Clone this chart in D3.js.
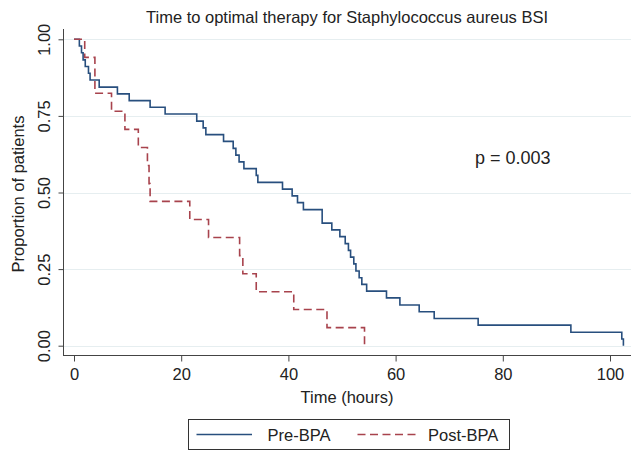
<!DOCTYPE html>
<html><head><meta charset="utf-8">
<script src="https://cdn.jsdelivr.net/npm/d3@7/dist/d3.min.js"></script>
<style>
body{margin:0;background:#fff}
svg{display:block;font-family:"Liberation Sans",Arial,sans-serif}
</style>
</head><body>
<svg id="chart" width="631" height="451"></svg>
<script>
// ---- data ----
const chartTitle = "Time to optimal therapy for Staphylococcus aureus BSI";
const xTitle = "Time (hours)";
const yTitle = "Proportion of patients";
const pText = "p = 0.003";
const seriesNames = ["Pre-BPA", "Post-BPA"];
const xTicks = [0, 20, 40, 60, 80, 100];
const yTicks = [0, 0.25, 0.5, 0.75, 1];

// Pre-BPA Kaplan-Meier steps (time in hours, proportion after the step)
const preTimes = [0, 1.0, 1.4, 1.7, 2.1, 2.7, 3.0, 4.7, 8.1, 10.3, 14.2, 17.0, 22.9, 24.1, 24.6,
  27.9, 29.7, 30.2, 30.8, 31.7, 34.0, 34.3, 38.9, 40.7, 41.7, 42.8, 46.3, 48.1, 49.6, 50.6,
  51.2, 51.6, 52.2, 52.6, 53.2, 53.7, 54.6, 58.3, 60.8, 64.4, 67.2, 75.4, 92.7, 102.2, 102.5];
const preSurv = [1.0, 0.978, 0.956, 0.933, 0.911, 0.889, 0.867, 0.844, 0.822, 0.800, 0.778, 0.756, 0.733, 0.711, 0.689,
  0.667, 0.644, 0.622, 0.600, 0.578, 0.556, 0.533, 0.511, 0.489, 0.467, 0.444, 0.400, 0.378, 0.356, 0.333,
  0.311, 0.289, 0.267, 0.244, 0.222, 0.200, 0.178, 0.156, 0.133, 0.111, 0.089, 0.067, 0.044, 0.022, 0.0];

// Post-BPA Kaplan-Meier steps
const postTimes = [0, 2.0, 3.9, 7.0, 9.5, 12.0, 13.7, 14.0, 14.2, 21.6, 25.1, 30.9, 31.5, 34.0, 41.0, 47.2, 54.2];
const postSurv = [1.0, 0.941, 0.824, 0.765, 0.706, 0.647, 0.588, 0.529, 0.471, 0.412, 0.353, 0.294, 0.235, 0.176, 0.118, 0.059, 0.0];

// ---- drawing ----
const svg = d3.select("#chart");
const W = 631, H = 451;
const axisX = 63.5, axisY = 355.5, topY = 29;
const x = d3.scaleLinear().domain([0, 100]).range([74, 610]);
const y = d3.scaleLinear().domain([0, 1]).range([345.7, 39.3]);

const blue = "#284f7e", red = "#a8434d";
const fs = 16.5;

svg.append("rect").attr("width", W).attr("height", H).attr("fill", "#fff");

// gridlines
svg.append("g").selectAll("line").data(yTicks).join("line")
  .attr("x1", axisX).attr("x2", W)
  .attr("y1", d => Math.round(y(d)) + 0.5).attr("y2", d => Math.round(y(d)) + 0.5)
  .attr("stroke", "#e6eef0").attr("stroke-width", 1.2);

// y axis
const gy = svg.append("g").attr("transform", `translate(${axisX},0)`)
  .call(d3.axisLeft(y).tickValues(yTicks).tickFormat(d3.format(".2f")).tickSize(5).tickSizeOuter(0));
gy.select(".domain").remove();
gy.selectAll(".tick line").attr("stroke", "#444");
gy.selectAll(".tick text")
  .attr("x", null).attr("dy", null)
  .attr("transform", "translate(-13.5,0) rotate(-90)")
  .attr("text-anchor", "middle")
  .attr("font-size", fs).attr("font-family", "Liberation Sans, Arial, sans-serif").attr("fill", "#222");

// x axis
const gx = svg.append("g").attr("transform", `translate(0,${axisY})`)
  .call(d3.axisBottom(x).tickValues(xTicks).tickSize(6).tickPadding(6).tickSizeOuter(0));
gx.select(".domain").remove();
gx.selectAll(".tick line").attr("stroke", "#444");
gx.selectAll(".tick text")
  .attr("dy", null).attr("y", 24.5)
  .attr("font-size", fs).attr("font-family", "Liberation Sans, Arial, sans-serif").attr("fill", "#222");

// axis lines
svg.append("line").attr("x1", axisX).attr("x2", axisX).attr("y1", topY).attr("y2", axisY + 0.5)
  .attr("stroke", "#444").attr("stroke-width", 1);
svg.append("line").attr("x1", axisX).attr("x2", W).attr("y1", axisY).attr("y2", axisY)
  .attr("stroke", "#444").attr("stroke-width", 1);

// curves
const line = d3.line().x(d => x(d[0])).y(d => y(d[1])).curve(d3.curveStepAfter);
const preData = preTimes.map((t, i) => [t, preSurv[i]]);
const postData = postTimes.map((t, i) => [t, postSurv[i]]);

svg.append("path").datum(preData).attr("d", line)
  .attr("fill", "none").attr("stroke", blue).attr("stroke-width", 1.6);
svg.append("path").datum(postData).attr("d", line)
  .attr("fill", "none").attr("stroke", red).attr("stroke-width", 1.6)
  .attr("stroke-dasharray", "8,4.5");

// title
svg.append("text").attr("x", 347).attr("y", 23).attr("text-anchor", "middle")
  .attr("font-size", 16.5).attr("fill", "#222").text(chartTitle);

// axis titles
svg.append("text").attr("x", 347).attr("y", 403).attr("text-anchor", "middle")
  .attr("font-size", fs).attr("fill", "#222").text(xTitle);
svg.append("text").attr("transform", "translate(23.5,194) rotate(-90)").attr("text-anchor", "middle")
  .attr("font-size", fs).attr("fill", "#222").text(yTitle);

// p value
svg.append("text").attr("x", 475).attr("y", 164)
  .attr("font-size", 18).attr("fill", "#222").text(pText);

// legend
const lg = svg.append("g");
lg.append("rect").attr("x", 188.5).attr("y", 419.5).attr("width", 321).attr("height", 30)
  .attr("fill", "#fff").attr("stroke", "#333").attr("stroke-width", 1);
lg.append("line").attr("x1", 196.5).attr("x2", 252).attr("y1", 434.5).attr("y2", 434.5)
  .attr("stroke", blue).attr("stroke-width", 1.6);
lg.append("text").attr("x", 267.5).attr("y", 440.5).attr("font-size", fs).attr("fill", "#222").text(seriesNames[0]);
lg.append("line").attr("x1", 357.5).attr("x2", 418.5).attr("y1", 434.5).attr("y2", 434.5)
  .attr("stroke", red).attr("stroke-width", 1.6).attr("stroke-dasharray", "8,4.5");
lg.append("text").attr("x", 428).attr("y", 440.5).attr("font-size", fs).attr("fill", "#222").text(seriesNames[1]);
</script>
</body></html>
